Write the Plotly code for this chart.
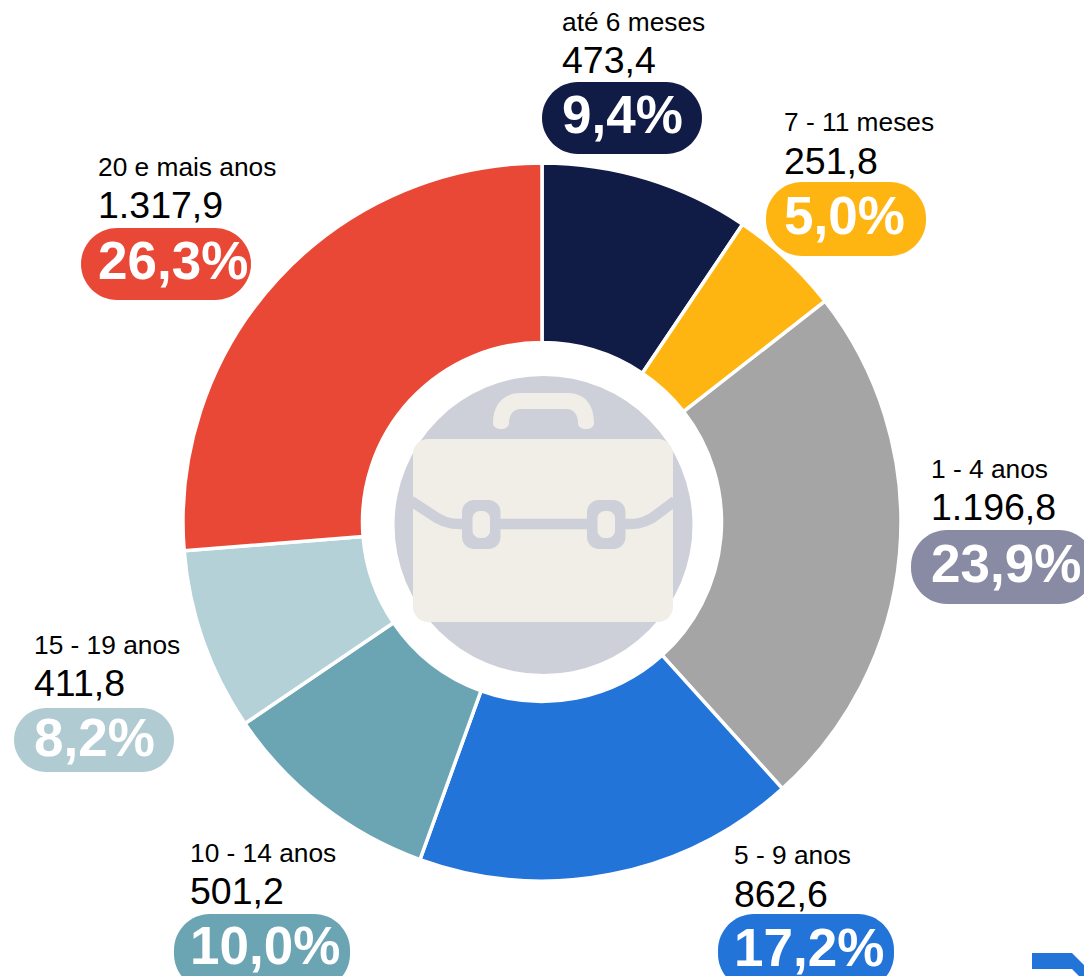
import plotly.graph_objects as go

categories = ["até 6 meses", "7 - 11 meses", "1 - 4 anos", "5 - 9 anos", "10 - 14 anos", "15 - 19 anos", "20 e mais anos"]
values = [473.4, 251.8, 1196.8, 862.6, 501.2, 411.8, 1317.9]
value_labels = ["473,4", "251,8", "1.196,8", "862,6", "501,2", "411,8", "1.317,9"]
pct_labels = ["9,4%", "5,0%", "23,9%", "17,2%", "10,0%", "8,2%", "26,3%"]

slice_colors = ["#111C46", "#FFB511", "#A5A5A5", "#2274D9", "#6BA4B2", "#B5D1D8", "#E94836"]
pill_colors = ["#111C46", "#FFB511", "#888BA3", "#2274D9", "#6BA4B2", "#B1CBD2", "#E94836"]

W, H = 1084, 976
FONT = "Liberation Sans, Arial, sans-serif"
# text left, label centre y, value centre y, pct centre y, pill box
layout_pos = [
    (560.5, 22, 60, 114, (542, 702, 82, 154)),
    (782.5, 122, 161, 215, (766, 926, 182, 256)),
    (929.5, 469, 507, 563, (911, 1095, 530, 604)),
    (732.5, 855, 894, 947, (718, 894, 914, 990)),
    (188.5, 853, 891, 945, (174, 350, 914, 990)),
    (32.5, 645, 683, 737, (14, 174, 708, 772)),
    (96.5, 167, 205, 260, (81, 251, 228, 300)),
]


def rrect(x0, y0, x1, y1, r):
    k = r * 0.45
    return (f"M{x0+r},{y0} L{x1-r},{y0} C{x1-k},{y0} {x1},{y0+k} {x1},{y0+r} "
            f"L{x1},{y1-r} C{x1},{y1-k} {x1-k},{y1} {x1-r},{y1} "
            f"L{x0+r},{y1} C{x0+k},{y1} {x0},{y1-k} {x0},{y1-r} "
            f"L{x0},{y0+r} C{x0},{y0+k} {x0+k},{y0} {x0+r},{y0} Z")


def fill(path, color):
    return dict(type="path", path=path, xref="x", yref="y", fillcolor=color, line=dict(width=0), layer="above")


fig = go.Figure()
fig.add_trace(go.Scatter(x=[None], y=[None], showlegend=False, hoverinfo="skip"))
fig.add_trace(go.Pie(
    labels=categories, values=values, sort=False, direction="clockwise", rotation=0,
    hole=0.5, textinfo="none", showlegend=False,
    marker=dict(colors=slice_colors, line=dict(color="white", width=3.5)),
    domain=dict(x=[183 / W, 901 / W], y=[1 - 881 / H, 1 - 163 / H]),
))

ICON_BG = "#CDD0D9"
ICON_FG = "#F1EEE7"
shapes = []
shapes.append(dict(type="circle", xref="x", yref="y", x0=394.5, x1=692.5, y0=376, y1=674,
                   fillcolor=ICON_BG, line=dict(width=0), layer="above"))
# handle
shapes.append(fill("M493,423 C493,404 504,393 520,393 L568,393 C584,393 594,404 594,423 "
                   "C594,431 578,431 578,423 C578,415 574,409 566,409 L521,409 "
                   "C513,409 509,415 509,423 C509,431 493,431 493,423 Z", ICON_FG))
# body
shapes.append(fill(rrect(413, 439, 673, 622, 15), ICON_FG))
# strap
shapes.append(dict(type="path", xref="x", yref="y", layer="above", fillcolor="rgba(0,0,0,0)",
                   line=dict(color=ICON_BG, width=10.5),
                   path="M411,501 L437,518 C449,525 458,524 465,524 L625,524 C632,524 640,525 652,518 L675,501"))
for cx0 in (462, 587):
    shapes.append(fill(rrect(cx0, 500, cx0 + 38.5, 549, 12), ICON_BG))
    shapes.append(fill(rrect(cx0 + 10.5, 511, cx0 + 28, 538, 7.5), ICON_FG))

# partial arrow-like mark in the corner
shapes.append(fill("M1032,953 L1072,953 L1084,965 L1084,976 L1079,976 L1072,969 L1032,969 Z", "#2274D9"))

annotations = []
for i, (tx, y1, y2, y3, box) in enumerate(layout_pos):
    x0, x1, y0, yb = box
    shapes.append(fill(rrect(x0, y0, x1, yb, min(36, (yb - y0) / 2)), pill_colors[i]))
    for text, y, size, bold, color in (
        (categories[i], y1, 26.3, False, "#000000"),
        (value_labels[i], y2, 37.5, False, "#000000"),
        (pct_labels[i], y3, 53, True, "#FFFFFF"),
    ):
        annotations.append(dict(
            x=tx, y=y, xref="x", yref="y", xanchor="left", yanchor="middle", showarrow=False,
            borderpad=0, text=f"<b>{text}</b>" if bold else text,
            font=dict(family=FONT, size=size, color=color),
        ))

fig.update_layout(
    width=W, height=H, margin=dict(l=0, r=0, t=0, b=0, pad=0),
    paper_bgcolor="white", plot_bgcolor="rgba(0,0,0,0)", showlegend=False,
    xaxis=dict(range=[0, W], visible=False, fixedrange=True),
    yaxis=dict(range=[H, 0], visible=False, fixedrange=True),
    shapes=shapes, annotations=annotations,
)
fig.write_html("out.html", config={"displayModeBar": False},
               post_script="document.body.style.margin='0';document.body.style.overflow='hidden';")
